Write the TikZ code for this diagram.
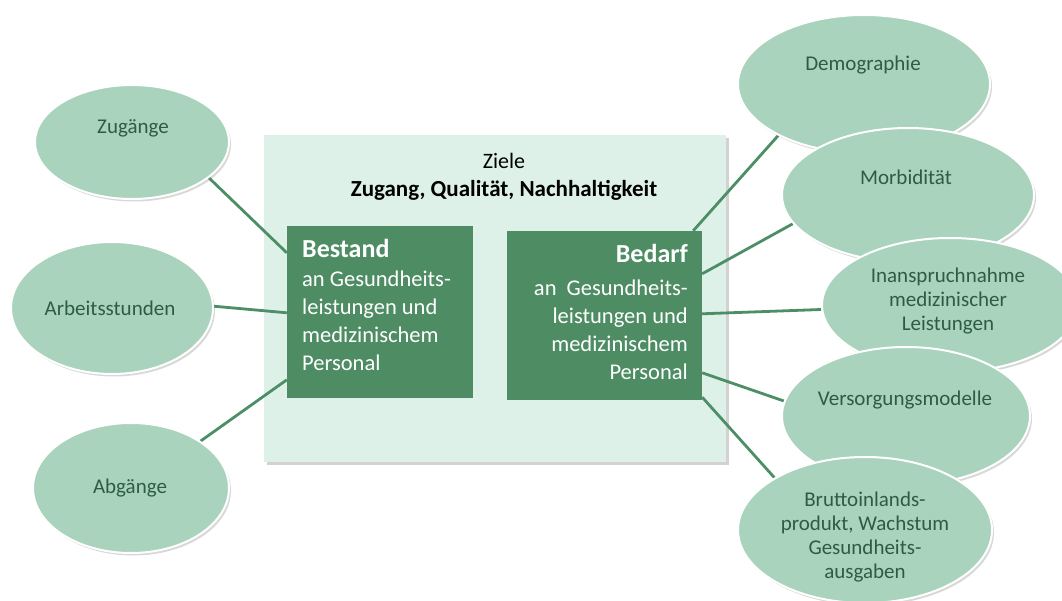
\documentclass[tikz,border=0pt]{standalone}
\usepackage{fontspec}
\setmainfont{Carlito}
\usetikzlibrary{shapes.geometric,shadows,calc}
\pgfdeclarelayer{bg}
\pgfsetlayers{bg,main}

\definecolor{mintbg}{HTML}{DEF1E9}
\definecolor{boxgreen}{HTML}{4E8D64}
\definecolor{ovalfill}{HTML}{A9D3BD}
\definecolor{ovaltext}{HTML}{2E5C43}
\definecolor{linkgreen}{HTML}{4C8E66}

\tikzset{
  goalframe/.style={rectangle, fill=mintbg, inner sep=0pt,
    drop shadow={opacity=0.35, shadow xshift=3pt, shadow yshift=-3pt}},
  stockbox/.style={rectangle, fill=boxgreen, inner sep=0pt},
  oval/.style={ellipse, fill=ovalfill, draw=white, line width=2pt, inner sep=0pt,
    drop shadow={opacity=0.3, shadow xshift=2pt, shadow yshift=-2.5pt}},
  ovallabel/.style={text=ovaltext, align=center, inner sep=0pt,
    font=\fontsize{21}{24}\selectfont},
  boxlabel/.style={text=white, inner sep=0pt,
    font=\fontsize{22.5}{27.7}\selectfont},
  link/.style={draw=linkgreen, line width=2.8pt},
}

\begin{document}
\begin{tikzpicture}[x=1pt,y=-1pt]
\useasboundingbox (0,0) rectangle (1062,601);
\clip (0,0) rectangle (1062,601);

% backdrop and the goals frame
\begin{pgfonlayer}{bg}
  \fill[white] (0,0) rectangle (1062,601);
  \node[goalframe, minimum width=462pt, minimum height=327pt] (frame) at (495,298.5) {};
\end{pgfonlayer}

% multi-line labels are anchored at the baseline of their last line
\node[align=center, inner sep=0pt, anchor=base, font=\fontsize{22}{28}\selectfont] (goals) at (504,197)
  {Ziele\\\fontsize{23}{28}\selectfont\bfseries Zugang, Qualität, Nachhaltigkeit};

% the two central boxes
\node[stockbox, minimum width=186pt, minimum height=172pt] (bestand) at (380,312) {};
\node[stockbox, minimum width=195pt, minimum height=169pt] (bedarf) at (604.5,315.5) {};

\node[boxlabel, align=left, anchor=base west] (bestandtext) at (302,370)
  {{\fontsize{26}{26}\selectfont\bfseries Bestand}\\[1.3pt]
   an Gesundheits-\\leistungen und\\medizinischem\\Personal};
\node[boxlabel, align=right, anchor=base east] (bedarftext) at (688,379)
  {{\fontsize{26}{26}\selectfont\bfseries Bedarf}\\[5.3pt]
   an\ \ Gesundheits-\\leistungen und\\medizinischem\\Personal};

% factors on the supply side
\node[oval, minimum width=194pt, minimum height=114pt] (zug) at (132,142) {};
\node[ovallabel] (zugtext) at (133,128) {Zugänge};
\node[oval, minimum width=202pt, minimum height=132pt] (arb) at (112,308) {};
\node[ovallabel] (arbtext) at (110,308) {Arbeitsstunden};
\node[oval, minimum width=196pt, minimum height=130pt] (abg) at (131,488) {};
\node[ovallabel] (abgtext) at (130,488) {Abgänge};

% factors on the demand side
\node[oval, minimum width=252pt, minimum height=138pt] (demo) at (864,84) {};
\node[ovallabel] (demotext) at (863,65) {Demographie};
\node[oval, minimum width=252pt, minimum height=134pt] (morb) at (908,195) {};
\node[ovallabel] (morbtext) at (906,177) {Morbidität};
\node[oval, minimum width=256pt, minimum height=134pt] (inan) at (950,305) {};
\node[ovallabel] (inantext) at (948,301) {Inanspruchnahme\\medizinischer\\Leistungen};
\node[oval, minimum width=248pt, minimum height=138pt] (vers) at (906,416) {};
\node[ovallabel] (verstext) at (905,400) {Versorgungsmodelle};
\node[oval, minimum width=254pt, minimum height=146pt] (brut) at (865,530) {};
\node[ovallabel] (bruttext) at (865,537) {Bruttoinlands-\\produkt, Wachstum\\Gesundheits-\\ausgaben};

% connectors
\begin{pgfonlayer}{bg}
  \draw[link] (zug.-25) -- ([yshift=-27pt]bestand.north west);
  \draw[link] (arb.1) -- ([yshift=-87pt]bestand.north west);
  \draw[link] (abg.34) -- ([yshift=-154pt]bestand.north west);
  \draw[link] ([xshift=-9pt]bedarf.north east) -- (demo.211);
  \draw[link] ([yshift=-43pt]bedarf.north east) -- (morb.194);
  \draw[link] ([yshift=-83pt]bedarf.north east) -- (inan.182);
  \draw[link] ([yshift=-142pt]bedarf.north east) -- (vers.173.5);
  \draw[link] ([yshift=3pt]bedarf.south east) -- (brut.150.5);
\end{pgfonlayer}
\end{tikzpicture}
\end{document}
